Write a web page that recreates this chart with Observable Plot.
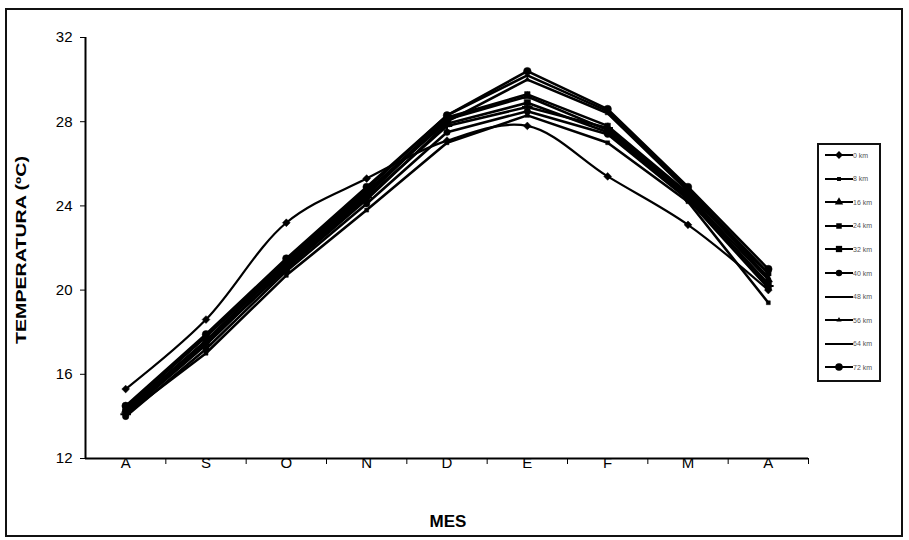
<!DOCTYPE html>
<html>
<head>
<meta charset="utf-8">
<script src="https://cdn.jsdelivr.net/npm/d3@7"></script>
<script src="https://cdn.jsdelivr.net/npm/@observablehq/plot@0.6"></script>
<style>
  html, body { margin: 0; padding: 0; background: #fff; }
  #wrap { position: relative; width: 909px; height: 540px; overflow: hidden; font-family: "Liberation Sans", Arial, sans-serif; }
  #frame { position: absolute; left: 5px; top: 8px; width: 894px; height: 525px; border: 2px solid #111; box-sizing: content-box; pointer-events: none; }
  #legend { position: absolute; left: 817px; top: 143px; width: 60px; height: 235px; border: 2px solid #111; background: #fff; }
  #legend .row { position: absolute; left: 4px; height: 12px; display: flex; align-items: center; }
  #legend .row span { font-size: 7px; color: #555; white-space: nowrap; }
  #ylabel { position: absolute; left: 21px; top: 250px; transform: translate(-50%, -50%) rotate(-90deg) scaleX(1.4); font-weight: bold; font-size: 14px; white-space: nowrap; }
  #xlabel { position: absolute; left: 448px; top: 522px; transform: translate(-50%, -50%); font-weight: bold; font-size: 17px; }
</style>
</head>
<body>
<div id="wrap">
  <div id="chart"></div>
  <div id="ylabel">TEMPERATURA (ºC)</div>
  <div id="xlabel">MES</div>
  <div id="legend"></div>
  <div id="frame"></div>
</div>
<script>
// ---- data ----
const months = ["A", "S", "O", "N", "D", "E", "F", "M", "A"];
const seriesNames = ["0 km", "8 km", "16 km", "24 km", "32 km", "40 km", "48 km", "56 km", "64 km", "72 km"];
const yTicks = [12, 16, 20, 24, 28, 32];

const km0  = [15.3, 18.6, 23.2, 25.3, 27.1, 27.8, 25.4, 23.1, 20.0];
const km8  = [14.1, 17.0, 20.7, 23.8, 27.0, 28.3, 27.0, 24.2, 19.4];
const km16 = [14.3, 17.6, 21.2, 24.5, 28.1, 29.2, 27.6, 24.5, 20.5];
const km24 = [14.4, 17.8, 21.3, 24.6, 28.2, 29.3, 27.8, 24.6, 20.8];
const km32 = [14.2, 17.5, 21.0, 24.3, 27.9, 28.9, 27.5, 24.4, 20.3];
const km40 = [14.0, 17.2, 20.9, 24.1, 27.5, 28.5, 27.4, 24.3, 20.1];
const km48 = [14.1, 17.4, 21.1, 24.4, 27.8, 28.7, 27.7, 24.5, 20.2];
const km56 = [14.2, 17.6, 21.3, 24.7, 28.0, 30.0, 28.4, 24.7, 20.6];
const km64 = [14.4, 17.8, 21.4, 24.8, 28.3, 30.2, 28.5, 24.8, 20.8];
const km72 = [14.5, 17.9, 21.5, 24.9, 28.3, 30.4, 28.6, 24.9, 21.0];

const seriesValues = [km0, km8, km16, km24, km32, km40, km48, km56, km64, km72];

// ---- styles (marker per series) ----
const markers = [
  {symbol: "diamond2", r: 3.5},
  {symbol: "square2", r: 2.5},
  {symbol: "triangle2", r: 4},
  {symbol: "square2", r: 3.5},
  {symbol: "square2", r: 4},
  {symbol: "circle", r: 3.2},
  {symbol: "plus", r: 3.5},
  {symbol: "triangle2", r: 2.5},
  null,
  {symbol: "circle", r: 3.8}
];

const rows = seriesValues.flatMap((vals, k) =>
  vals.map((t, i) => ({i, t, s: seriesNames[k], k})));

const indices = months.map((_, i) => i);
const boundaries = months.map((_, i) => i + 0.5);

const dotMarks = markers.map((m, k) => m == null ? null :
  Plot.dot(rows.filter(d => d.k === k), {
    x: "i", y: "t", symbol: m.symbol, r: m.r, fill: "#000", stroke: "#000", strokeWidth: m.symbol === "plus" ? 2 : 0.5
  })).filter(Boolean);

const chart = Plot.plot({
  width: 909,
  height: 540,
  marginLeft: 85,
  marginRight: 101,
  marginTop: 37,
  marginBottom: 82,
  x: {domain: [-0.5, 8.5]},
  y: {domain: [12, 32]},
  style: {fontFamily: "'Liberation Sans', Arial, sans-serif", fontSize: "14px", color: "#000", background: "transparent"},
  marks: [
    Plot.axisY({ticks: yTicks, tickSize: 5, tickPadding: 8, label: null, fontSize: 15}),
    Plot.axisX({ticks: boundaries, tickSize: 6, tickFormat: () => "", label: null}),
    Plot.axisX({ticks: indices, tickSize: 0, tickPadding: -1, tickFormat: i => months[i], label: null, fontSize: 15}),
    Plot.ruleX([-0.5], {stroke: "#000", strokeWidth: 2}),
    Plot.ruleY([12], {stroke: "#000", strokeWidth: 2}),
    Plot.line(rows.filter(d => d.k !== 0), {x: "i", y: "t", z: "s", stroke: "#000", strokeWidth: 2.6, curve: "linear"}),
    Plot.line(rows.filter(d => d.k === 0), {x: "i", y: "t", stroke: "#000", strokeWidth: 2.2, curve: "catmull-rom"}),
    ...dotMarks
  ]
});
document.getElementById("chart").appendChild(chart);

// ---- legend ----
const legend = document.getElementById("legend");
seriesNames.forEach((name, k) => {
  const row = document.createElement("div");
  row.className = "row";
  row.style.top = (10 + k * 23.6 - 6) + "px";
  const svgNS = "http://www.w3.org/2000/svg";
  const svg = document.createElementNS(svgNS, "svg");
  svg.setAttribute("width", 30);
  svg.setAttribute("height", 12);
  const line = document.createElementNS(svgNS, "line");
  line.setAttribute("x1", 2); line.setAttribute("x2", 30);
  line.setAttribute("y1", 6); line.setAttribute("y2", 6);
  line.setAttribute("stroke", "#000"); line.setAttribute("stroke-width", 2);
  svg.appendChild(line);
  const m = markers[k];
  if (m) {
    const path = document.createElementNS(svgNS, "path");
    const symMap = {diamond2: d3.symbolDiamond2, square2: d3.symbolSquare2, triangle2: d3.symbolTriangle2, circle: d3.symbolCircle, plus: d3.symbolPlus};
    const size = (m.r * 1.0) ** 2 * Math.PI;
    path.setAttribute("d", d3.symbol(symMap[m.symbol], size)());
    path.setAttribute("transform", "translate(16,6)");
    path.setAttribute("fill", "#000");
    svg.appendChild(path);
  }
  row.appendChild(svg);
  const label = document.createElement("span");
  label.textContent = name;
  row.appendChild(label);
  legend.appendChild(row);
});
</script>
</body>
</html>
